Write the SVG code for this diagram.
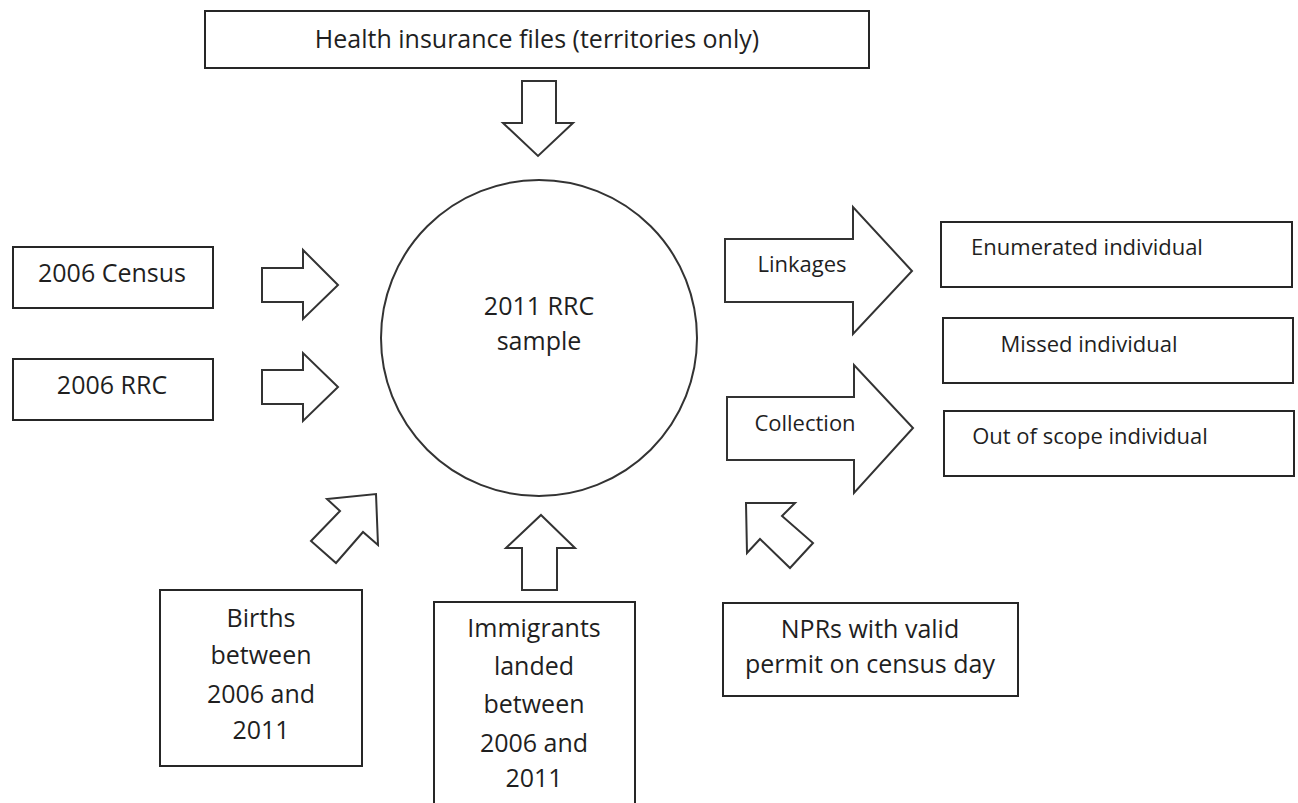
<svg xmlns="http://www.w3.org/2000/svg" width="1298" height="803" viewBox="0 0 1298 803">
<style>
.box{fill:#fff;stroke:#262626;stroke-width:2}
.arr{fill:#fff;stroke:#333;stroke-width:2;stroke-linejoin:miter}
.t{font-family:"Open Sans","Noto Sans","Liberation Sans",sans-serif;font-size:25px;fill:#1f1f1f;text-anchor:middle}
.s{font-size:22px}
</style>
<rect width="1298" height="803" fill="#fff"/>
<g id="connectors">
<polygon class="arr" points="522,81 556,81 556,123 573,123 538,156 503,123 522,123"/>
<polygon class="arr" points="262,268 303,268 303,250 338,285 303,319 303,302 262,302"/>
<polygon class="arr" points="262,370 303,370 303,353 338,387 303,421 303,404 262,404"/>
<polygon class="arr" points="725,239 853,239 853,207 912,271 853,334 853,302 725,302"/>
<polygon class="arr" points="727,397 854,397 854,365 913,428 854,493 854,460 727,460"/>
<polygon class="arr" points="541,515 575,548 557,548 557,590 522,590 522,548 506,548"/>
<polygon class="arr" points="376,494 378,545 363,532 336,563 311,541 340,511 327,499"/>
<polygon class="arr" points="746,503 795,503 782,516 813,543 790,568 760,539 747,553"/>
</g>
<g id="health">
<rect class="box" x="205" y="11" width="664" height="57"/>
<text class="t" x="537" y="48">Health insurance files (territories only)</text>
</g>
<g id="census2006">
<rect class="box" x="13" y="247" width="200" height="61"/>
<text class="t" x="112" y="282">2006 Census</text>
</g>
<g id="rrc2006">
<rect class="box" x="13" y="359" width="200" height="61"/>
<text class="t" x="112" y="394">2006 RRC</text>
</g>
<g id="sample">
<circle cx="539" cy="338" r="158" fill="#fff" stroke="#333" stroke-width="2"/>
<text class="t" x="539" y="315">2011 RRC</text>
<text class="t" x="539" y="350">sample</text>
</g>
<g id="linkages-label"><text class="t s" x="802" y="272">Linkages</text></g>
<g id="collection-label"><text class="t s" x="805" y="431">Collection</text></g>
<g id="enumerated">
<rect class="box" x="941" y="222" width="351" height="65"/>
<text class="t s" x="1087" y="255">Enumerated individual</text>
</g>
<g id="missed">
<rect class="box" x="943" y="318" width="350" height="65"/>
<text class="t s" x="1089" y="352">Missed individual</text>
</g>
<g id="outofscope">
<rect class="box" x="944" y="411" width="350" height="65"/>
<text class="t s" x="1090" y="444">Out of scope individual</text>
</g>
<g id="births">
<rect class="box" x="160" y="590" width="202" height="176"/>
<text class="t" x="261" y="627">Births</text>
<text class="t" x="261" y="664">between</text>
<text class="t" x="261" y="703">2006 and</text>
<text class="t" x="261" y="739">2011</text>
</g>
<g id="immigrants">
<rect class="box" x="434" y="602" width="201" height="220"/>
<text class="t" x="534" y="637">Immigrants</text>
<text class="t" x="534" y="675">landed</text>
<text class="t" x="534" y="713">between</text>
<text class="t" x="534" y="752">2006 and</text>
<text class="t" x="534" y="787">2011</text>
</g>
<g id="nprs">
<rect class="box" x="723" y="603" width="295" height="93"/>
<text class="t" x="870" y="638">NPRs with valid</text>
<text class="t" x="870" y="673">permit on census day</text>
</g>
</svg>
